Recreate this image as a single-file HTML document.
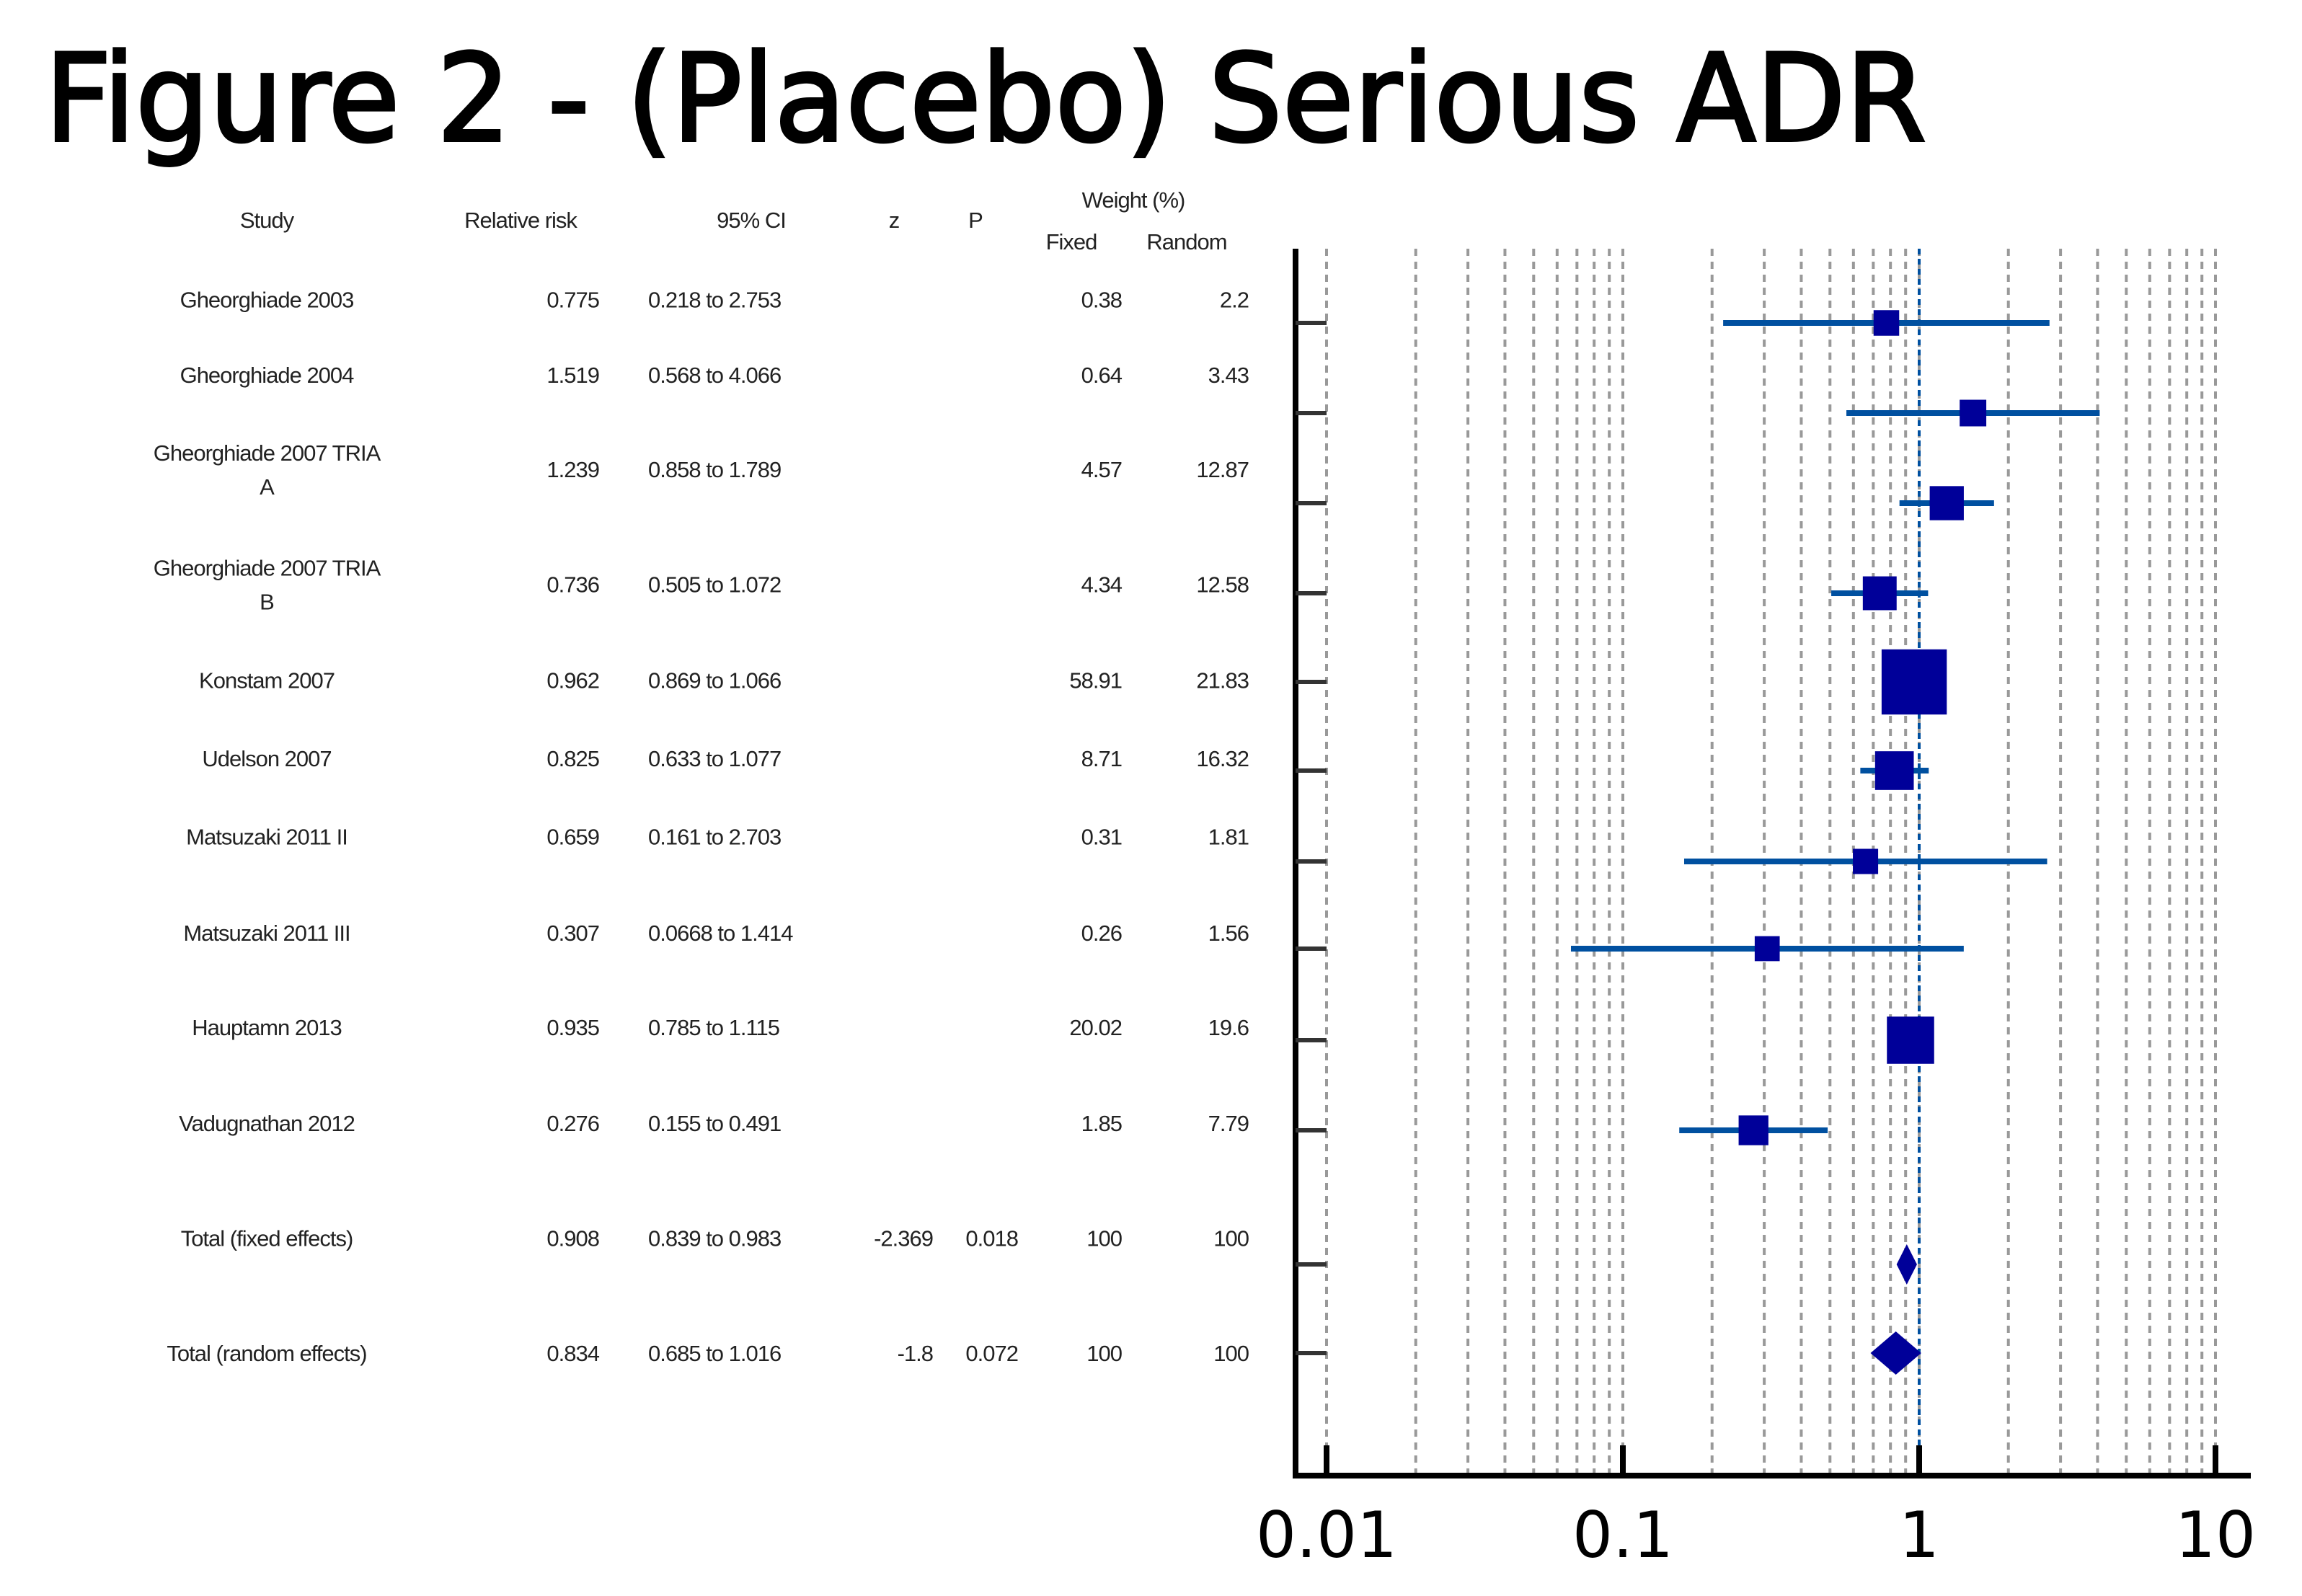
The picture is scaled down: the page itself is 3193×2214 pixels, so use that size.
<!DOCTYPE html>
<html><head><meta charset="utf-8"><style>
html,body{margin:0;padding:0;background:#fff;}
svg{display:block;}
text{font-family:"Liberation Sans",sans-serif;fill:#222;}
</style></head><body>
<svg id="chart" width="3193" height="2214" viewBox="0 0 3193 2214">
<text x="62" y="195" font-size="168" textLength="2610" lengthAdjust="spacingAndGlyphs" style="fill:#000;stroke:#000;stroke-width:4;font-family:'DejaVu Sans',sans-serif">Figure 2 - (Placebo) Serious ADR</text>
<g id="table"></g>
<g id="plot"></g>
</svg>
<script>
const studies = ["Gheorghiade 2003","Gheorghiade 2004","Gheorghiade 2007 TRIA|A","Gheorghiade 2007 TRIA|B","Konstam 2007","Udelson 2007","Matsuzaki 2011 II","Matsuzaki 2011 III","Hauptamn 2013","Vadugnathan 2012"];
const rr = [0.775,1.519,1.239,0.736,0.962,0.825,0.659,0.307,0.935,0.276];
const lo = [0.218,0.568,0.858,0.505,0.869,0.633,0.161,0.0668,0.785,0.155];
const hi = [2.753,4.066,1.789,1.072,1.066,1.077,2.703,1.414,1.115,0.491];
const wFixed = [0.38,0.64,4.57,4.34,58.91,8.71,0.31,0.26,20.02,1.85];
const wRandom = [2.2,3.43,12.87,12.58,21.83,16.32,1.81,1.56,19.6,7.79];
const totalLabels = ["Total (fixed effects)","Total (random effects)"];
const totalRR = [0.908,0.834];
const totalLo = [0.839,0.685];
const totalHi = [0.983,1.016];
const totalZ = ["-2.369","-1.8"];
const totalP = ["0.018","0.072"];
const xTicks = [0.01,0.1,1,10];
const xTickLabels = ["0.01","0.1","1","10"];

const NS="http://www.w3.org/2000/svg";
const S=2.047;
const plotX0=1797, plotX1=3122, axisY=2047, topY=345;
function xs(v){return 1840 + (Math.log10(v)+2)*411;}
const rowY=[448,573,698,823,946,1069,1195,1316,1443,1568];
const totY=[1754,1877];
const textRowY=[204,255,319,397,462,515,568,633,697,762];
const textTotY=[840,918];
function el(tag,attrs,parent){const e=document.createElementNS(NS,tag);for(const k in attrs)e.setAttribute(k,attrs[k]);parent.appendChild(e);return e;}
const tbl=document.getElementById('table'), plot=document.getElementById('plot');
function txt(s,x,y,anchor,name){const t=el('text',{x:x,y:y,'font-size':31,'text-anchor':anchor,'letter-spacing':'-1'},tbl);t.textContent=s;


return t;}
txt("Study",370,316,"middle","header-study");
txt("Relative risk",722,316,"middle","header-relative-risk");
txt("95% CI",1042,316,"middle","header-ci");
txt("z",1240,316,"middle","header-z");
txt("P",1353,316,"middle","header-p");
txt("Weight (%)",1572,288,"middle","header-weight");
txt("Fixed",1486,346,"middle","header-fixed");
txt("Random",1646,346,"middle","header-random");
studies.forEach((s,i)=>{
  const y=textRowY[i]*S+9;
  const parts=s.split("|");
  if(parts.length>1){txt(parts[0],370,y-23,"middle","study-name");txt(parts[1],370,y+24,"middle","study-name");}
  else txt(s,370,y,"middle","study-name");
  txt(rr[i].toFixed(3),831,y,"end","relative-risk-value");
  txt(lo[i]+" to "+hi[i].toFixed(3),899,y,"start","ci-value");
  txt(String(wFixed[i]),1556,y,"end","fixed-weight");
  txt(String(wRandom[i]),1732,y,"end","random-weight");
});
totalLabels.forEach((s,i)=>{
  const y=textTotY[i]*S+9;
  txt(s,370,y,"middle","total-label");
  txt(totalRR[i].toFixed(3),831,y,"end","total-relative-risk");
  txt(totalLo[i].toFixed(3)+" to "+totalHi[i].toFixed(3),899,y,"start","total-ci");
  txt(totalZ[i],1294,y,"end","total-z");
  txt(totalP[i],1412,y,"end","total-p");
  txt("100",1556,y,"end","total-fixed-weight");
  txt("100",1732,y,"end","total-random-weight");
});
for(let d=-2;d<=0;d++){for(let m=1;m<=10;m++){const v=m*Math.pow(10,d);const x=xs(v);
  const l=el('line',{x1:x,y1:topY,x2:x,y2:axisY,stroke:'#999','stroke-width':4,'stroke-dasharray':'10 8'},plot);
  
  }}
const ref=el('line',{x1:xs(1),y1:topY,x2:xs(1),y2:axisY,stroke:'#0050a0','stroke-width':4,'stroke-dasharray':'8 6'},plot);


const ya=el('line',{x1:plotX0,y1:topY,x2:plotX0,y2:axisY+4,stroke:'#000','stroke-width':8},plot);


const xa=el('line',{x1:plotX0-4,y1:axisY,x2:plotX1,y2:axisY,stroke:'#000','stroke-width':8},plot);


rowY.concat(totY).forEach(y=>{const t=el('line',{x1:plotX0,y1:y,x2:1840,y2:y,stroke:'#333','stroke-width':6},plot);
  
  });
xTicks.forEach((v,i)=>{const x=xs(v);
  const t=el('line',{x1:x,y1:axisY,x2:x,y2:axisY-42,stroke:'#000','stroke-width':8},plot);
  
  
  const lb=el('text',{x:x,y:2160,'font-size':88,'text-anchor':'middle',style:'fill:#000;font-family:"DejaVu Sans",sans-serif'},plot);
  lb.textContent=xTickLabels[i];
  
  });
studies.forEach((s,i)=>{const y=rowY[i];
  const ci=el('line',{x1:xs(lo[i]),y1:y,x2:xs(hi[i]),y2:y,stroke:'#0050a0','stroke-width':8},plot);
  
  
  const side=(15+3.8*Math.sqrt(wFixed[i]))*S;
  const sq=el('rect',{x:xs(rr[i])-side/2,y:y-side/2,width:side,height:side,fill:'#000099'},plot);
  
  });
totalLabels.forEach((s,i)=>{const y=totY[i];const h=i===0?28:30;
  const pts=[[xs(totalLo[i]),y],[xs(totalRR[i]),y-h],[xs(totalHi[i]),y],[xs(totalRR[i]),y+h]].map(p=>p.join(',')).join(' ');
  const d=el('polygon',{points:pts,fill:'#000099'},plot);
  
  });
</script>
</body></html>
